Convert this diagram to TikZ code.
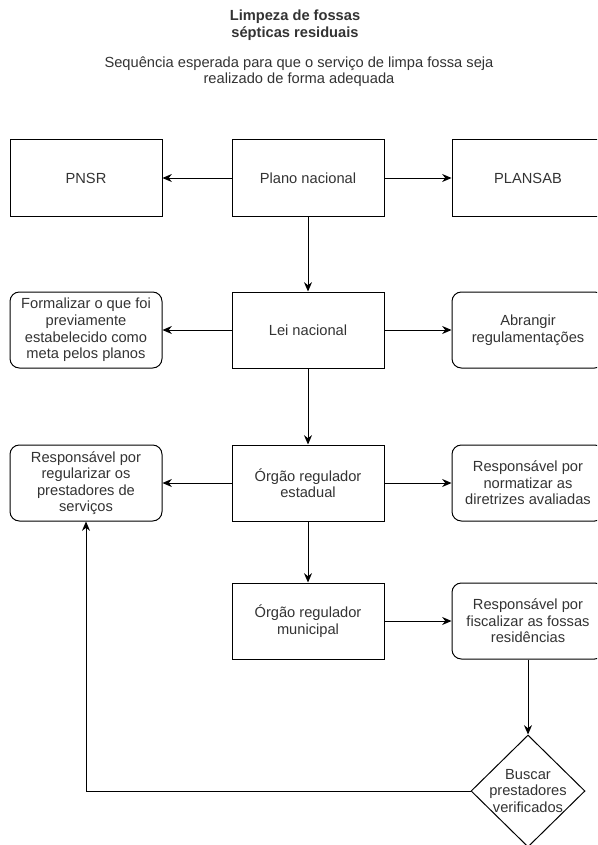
\documentclass[tikz,border=0pt]{standalone}
\usepackage{fontspec}
\setmainfont{Liberation Sans}
\usetikzlibrary{shapes.geometric,arrows.meta}
\definecolor{txt}{HTML}{333333}
\begin{document}
\begin{tikzpicture}[x=0.75pt,y=-0.75pt,
  box/.style={draw=black,line width=0.75pt,minimum width=114pt,minimum height=57pt,inner sep=0pt,align=center,text=txt,font=\fontsize{11}{12.4}\selectfont},
  rbox/.style={box,rounded corners=7pt},
  lbl/.style={align=center,text=txt,inner sep=0pt,font=\fontsize{11}{12.4}\selectfont},
  arr/.style={draw=black,line width=0.75pt,-{Stealth[length=7pt,width=6pt]}}]
\useasboundingbox (0,0) rectangle (597,845);
\clip (0,0) rectangle (597,845);
% titles
\node[lbl,font=\bfseries\fontsize{11}{12.8}\selectfont] (title) at (295,25) {Limpeza de fossas\\sépticas residuais};
\node[lbl,font=\fontsize{11}{12}\selectfont] (sub) at (299,72) {Sequência esperada para que o serviço de limpa fossa seja\\realizado de forma adequada};
% row 1
\node[box] (pnsr) at (86,178) {PNSR};
\node[box] (plano) at (308,178) {Plano nacional};
\node[box] (plansab) at (528,178) {PLANSAB};
% row 2
\node[rbox] (form) at (86,330) {Formalizar o que foi\\previamente\\estabelecido como\\meta pelos planos};
\node[box] (lei) at (308,330) {Lei nacional};
\node[rbox] (abr) at (528,330) {Abrangir\\regulamentações};
% row 3
\node[rbox] (regl) at (86,483) {Responsável por\\regularizar os\\prestadores de\\serviços};
\node[box] (est) at (308,483) {Órgão regulador\\estadual};
\node[rbox] (norm) at (528,483) {Responsável por\\normatizar as\\diretrizes avaliadas};
% row 4
\node[box] (mun) at (308,621) {Órgão regulador\\municipal};
\node[rbox] (fisc) at (528,621) {Responsável por\\fiscalizar as fossas\\residências};
% diamond
\node[diamond,draw=black,line width=0.75pt,minimum width=85.5pt,minimum height=84pt,inner sep=0pt] (dia) at (528,791) {};
\node[lbl] (diatxt) at (528,791) {Buscar\\prestadores\\verificados};
% connectors
\draw[arr] (plano) -- (pnsr);
\draw[arr] (plano) -- (plansab);
\draw[arr] (plano) -- (lei);
\draw[arr] (lei) -- (form);
\draw[arr] (lei) -- (abr);
\draw[arr] (lei) -- (est);
\draw[arr] (est) -- (regl);
\draw[arr] (est) -- (norm);
\draw[arr] (est) -- (mun);
\draw[arr] (mun) -- (fisc);
\draw[arr] (fisc) -- (dia);
\draw[arr] (dia.west) -| (regl.south);
\end{tikzpicture}
\end{document}
